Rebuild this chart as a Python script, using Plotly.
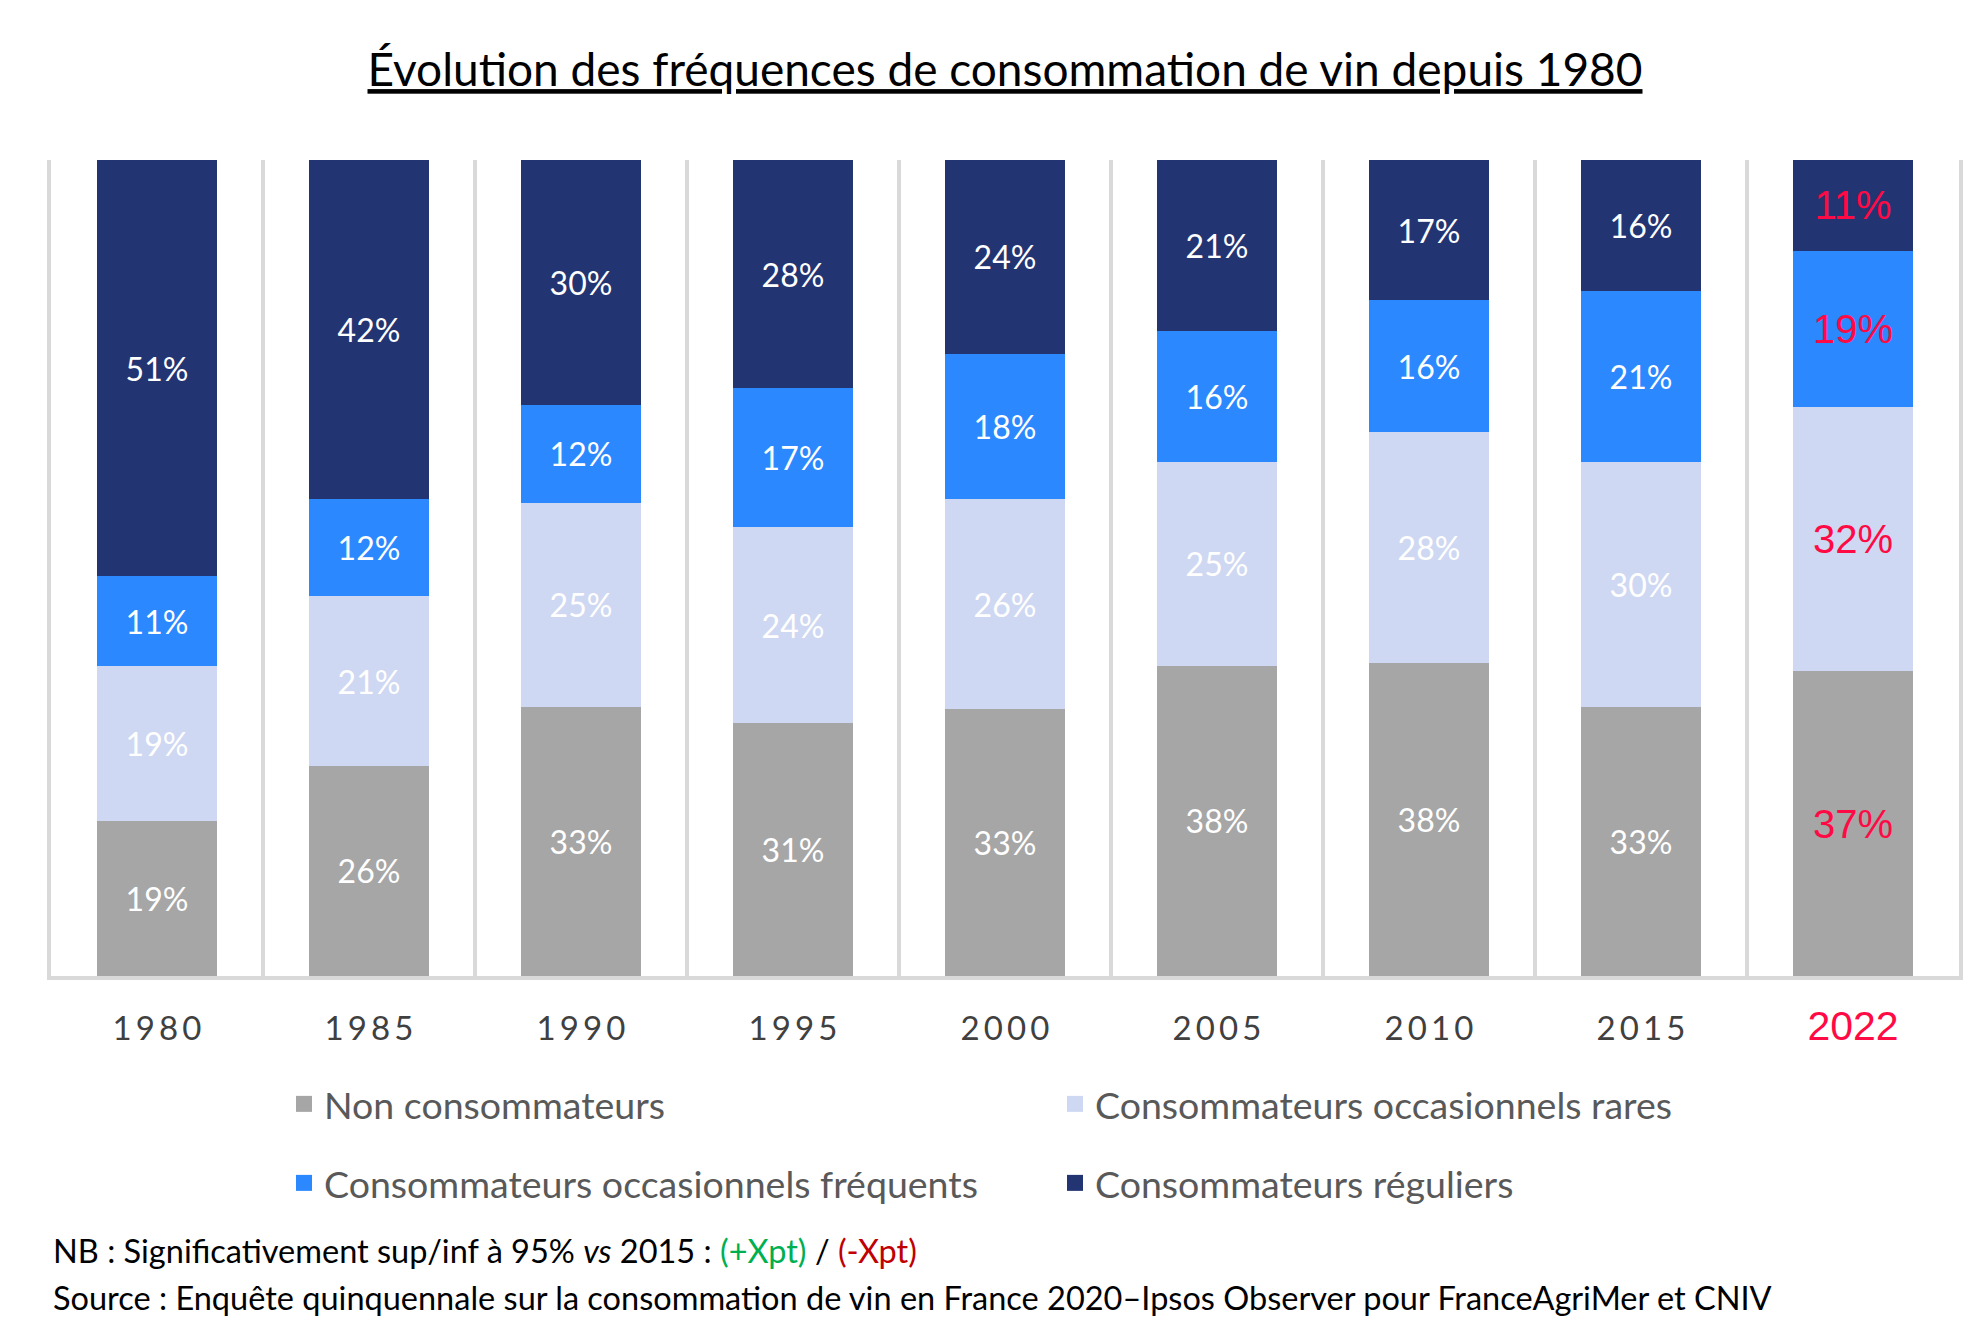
import plotly.graph_objects as go

# ---- data ----
years = ["1980", "1985", "1990", "1995", "2000", "2005", "2010", "2015", "2022"]
non_consommateurs = [19, 26, 33, 31, 33, 38, 38, 33, 37]
occasionnels_rares = [19, 21, 25, 24, 26, 25, 28, 30, 32]
occasionnels_frequents = [11, 12, 12, 17, 18, 16, 16, 21, 19]
reguliers = [51, 42, 30, 28, 24, 21, 17, 16, 11]

series_names = [
    "Non consommateurs",
    "Consommateurs occasionnels rares",
    "Consommateurs occasionnels fréquents",
    "Consommateurs réguliers",
]
series_values = [non_consommateurs, occasionnels_rares, occasionnels_frequents, reguliers]
series_colors = ["#A6A6A6", "#CFD8F2", "#2B88FF", "#233472"]
series_legend = ["legend", "legend", "legend2", "legend2"]

highlight_year = "2022"
RED = "#FF0A45"
BASE_FONT = "Lato, 'Open Sans', sans-serif"
NARROW_FONT = "'Liberation Sans Narrow', 'Arial Narrow', 'Liberation Sans', Arial, sans-serif"

# page body keeps an 8px margin, so the figure is 16px smaller than the window
OFF = 8
W, H = 1984 - 2 * OFF, 1342 - 2 * OFF
M_L, M_R, M_T, M_B = 51 - OFF, 1984 - OFF - 1959, 160 - OFF, 1342 - OFF - 976
PLOT_H = H - M_T - M_B


def cy(py):
    """container fraction from page pixel y"""
    return 1 - (py - OFF) / H


def cx(px):
    return (px - OFF) / W


def paper_y(py):
    return (H - M_B - (py - OFF)) / PLOT_H


fig = go.Figure()
for name, vals, col, lg in zip(series_names, series_values, series_colors, series_legend):
    is_hl = [y == highlight_year for y in years]
    fig.add_trace(go.Bar(
        x=years,
        y=vals,
        name=name,
        showlegend=False,
        marker=dict(color=col, line=dict(width=0)),
        text=[f"{v}%" for v in vals],
        textposition="inside",
        insidetextanchor="middle",
        textangle=0,
        constraintext="none",
        textfont=dict(
            color=[RED if h else "white" for h in is_hl],
            family=[NARROW_FONT if h else BASE_FONT for h in is_hl],
            size=[40 if h else 32 for h in is_hl],
        ),
        hoverinfo="skip",
    ))

# legend keys (square swatches, same colours/names as the bar series)
for name, col, lg in zip(series_names, series_colors, series_legend):
    fig.add_trace(go.Scatter(
        x=[None], y=[None],
        mode="markers",
        name=name,
        legend=lg,
        marker=dict(symbol="square", size=20, color=col, line=dict(width=0)),
        hoverinfo="skip",
    ))

tick_text = []
for y in years:
    if y == highlight_year:
        tick_text.append(
            f'<span style="font-family:{NARROW_FONT}; font-size:41px; fill:{RED}">{y}</span>'
        )
    else:
        tick_text.append("\u2009".join(list(y)))

GRID = "#D9D9D9"
LEGEND_FONT = dict(family=BASE_FONT, size=37.5, color="#595959")
fig.update_layout(
    width=W,
    height=H,
    barmode="stack",
    barnorm="percent",
    bargap=0.438,
    plot_bgcolor="white",
    paper_bgcolor="white",
    margin=dict(l=M_L, r=M_R, t=M_T, b=M_B),
    font=dict(family=BASE_FONT, color="#404040"),
    title=dict(
        text="<u>Évolution des fréquences de consommation de vin depuis 1980</u>",
        font=dict(family=BASE_FONT, size=46, color="black"),
        x=0.5, xref="paper", xanchor="center",
        y=cy(70), yref="container", yanchor="middle",
    ),
    xaxis=dict(
        type="category",
        tickmode="array",
        tickvals=years,
        ticktext=tick_text,
        tickson="boundaries",
        ticks="",
        showgrid=True,
        gridcolor=GRID,
        gridwidth=4,
        showline=True,
        linecolor=GRID,
        linewidth=4,
        tickfont=dict(family=BASE_FONT, size=33, color="#404040"),
        ticklabelstandoff=20,
    ),
    yaxis=dict(
        range=[0, 100],
        showgrid=False,
        zeroline=False,
        showticklabels=False,
        ticks="",
        showline=True,
        mirror=True,
        linecolor=GRID,
        linewidth=4,
    ),
    legend=dict(
        orientation="h",
        xref="container", yref="container",
        x=cx(284), y=cy(1104),
        xanchor="left", yanchor="middle",
        font=LEGEND_FONT,
        entrywidth=726,
        entrywidthmode="pixels",
        itemwidth=30,
        traceorder="normal",
        bgcolor="rgba(0,0,0,0)",
    ),
    legend2=dict(
        orientation="h",
        xref="container", yref="container",
        x=cx(284), y=cy(1183),
        xanchor="left", yanchor="middle",
        font=LEGEND_FONT,
        entrywidth=726,
        entrywidthmode="pixels",
        itemwidth=30,
        traceorder="normal",
        bgcolor="rgba(0,0,0,0)",
    ),
    annotations=[
        dict(
            text='NB : Significativement sup/inf à 95% <i>vs</i> 2015 : '
                 '<span style="color:#00B050">(+Xpt)</span> / '
                 '<span style="color:#C00000">(-Xpt)</span>',
            xref="paper", yref="paper",
            x=0, y=paper_y(1250),
            xanchor="left", yanchor="middle",
            showarrow=False,
            font=dict(family=BASE_FONT, size=32.5, color="black"),
        ),
        dict(
            text="Source : Enquête quinquennale sur la consommation de vin en France 2020–Ipsos Observer pour FranceAgriMer et CNIV",
            xref="paper", yref="paper",
            x=0, y=paper_y(1297),
            xanchor="left", yanchor="middle",
            showarrow=False,
            font=dict(family=BASE_FONT, size=32.5, color="black"),
        ),
    ],
)

fig.write_html("out.html")
